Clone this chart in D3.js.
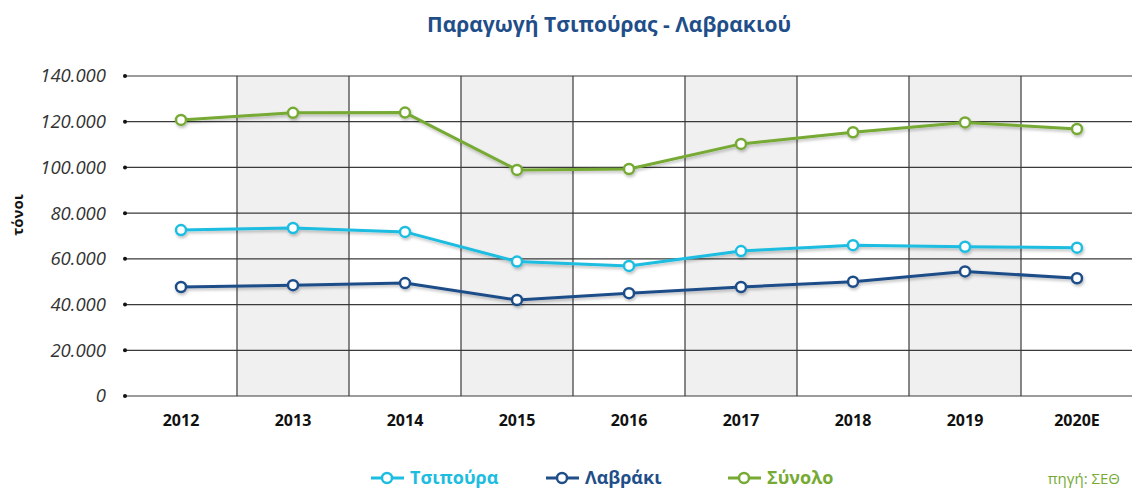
<!DOCTYPE html>
<html>
<head>
<meta charset="utf-8">
<script src="https://cdn.jsdelivr.net/npm/d3@7"></script>
<style>
  body { margin: 0; background: #fff; }
  svg { display: block; font-family: 'Open Sans', 'DejaVu Sans', sans-serif; }
</style>
</head>
<body>
<svg id="chart" width="1132" height="490"></svg>
<script>
const years = ['2012', '2013', '2014', '2015', '2016', '2017', '2018', '2019', '2020E'];
const tsipoura = [72600, 73500, 71800, 58800, 56900, 63400, 66000, 65300, 64900];
const lavraki = [47700, 48500, 49400, 42000, 45000, 47700, 50000, 54500, 51500];
const synolo = [120800, 123900, 124000, 98900, 99300, 110300, 115400, 119700, 116800];
const yTicks = [0, 20000, 40000, 60000, 80000, 100000, 120000, 140000];

const seriesList = [
  { name: 'Τσιπούρα', values: tsipoura, color: '#1cbde0' },
  { name: 'Λαβράκι', values: lavraki, color: '#1f4e89' },
  { name: 'Σύνολο', values: synolo, color: '#76aa34' }
];

const svg = d3.select('#chart');
const area = { left: 125, right: 1133, top: 76, bottom: 396 };

const x = d3.scaleBand().domain(years).range([area.left, area.right]);
const y = d3.scaleLinear().domain([0, 140000]).range([area.bottom, area.top]);

const defs = svg.append('defs');
const shadow = defs.append('filter').attr('id', 'shadow')
  .attr('x', '-5%').attr('y', '-20%').attr('width', '110%').attr('height', '140%');
shadow.append('feDropShadow')
  .attr('dx', 1).attr('dy', 2).attr('stdDeviation', 1.5)
  .attr('flood-color', '#000').attr('flood-opacity', 0.25);

// title
svg.append('text')
  .attr('x', 609).attr('y', 32)
  .style('text-anchor', 'middle')
  .style('font-size', '21px')
  .style('font-weight', 'bold')
  .style('fill', '#1f4e89')
  .text('Παραγωγή Τσιπούρας - Λαβρακιού');

// shaded bands
svg.append('g')
  .selectAll('rect')
  .data(years.filter((d, i) => i % 2 === 1))
  .enter().append('rect')
  .attr('x', d => x(d))
  .attr('y', area.top)
  .attr('width', x.bandwidth())
  .attr('height', area.bottom - area.top)
  .style('fill', '#f0f0f0');

// horizontal grid
svg.append('g')
  .selectAll('line')
  .data(yTicks)
  .enter().append('line')
  .attr('x1', area.left).attr('x2', area.right)
  .attr('y1', d => y(d)).attr('y2', d => y(d))
  .style('stroke', '#3a3a3a')
  .style('stroke-width', 1.2);

// vertical separators
svg.append('g')
  .selectAll('line')
  .data(years.slice(1))
  .enter().append('line')
  .attr('x1', d => x(d)).attr('x2', d => x(d))
  .attr('y1', area.top).attr('y2', area.bottom)
  .style('stroke', '#3a3a3a')
  .style('stroke-width', 1.2);

// y axis tick dots + labels
svg.append('g')
  .selectAll('circle')
  .data(yTicks)
  .enter().append('circle')
  .attr('cx', area.left).attr('cy', d => y(d)).attr('r', 2)
  .style('fill', '#111');

const fmt = d => d === 0 ? '0' : d3.format(',')(d).replace(/,/g, '.');
svg.append('g')
  .selectAll('text')
  .data(yTicks)
  .enter().append('text')
  .attr('x', 106).attr('y', d => y(d))
  .attr('dy', '0.35em')
  .style('text-anchor', 'end')
  .style('font-size', '18.5px')
  .style('font-style', 'italic')
  .style('fill', '#333')
  .text(fmt);

svg.append('text')
  .attr('transform', 'rotate(-90)')
  .attr('x', -215).attr('y', 23)
  .style('text-anchor', 'middle')
  .style('font-size', '15px')
  .style('font-weight', 'bold')
  .style('fill', '#111')
  .text('τόνοι');

// x labels
svg.append('g')
  .selectAll('text')
  .data(years)
  .enter().append('text')
  .attr('x', d => x(d) + x.bandwidth() / 2)
  .attr('y', 426)
  .style('text-anchor', 'middle')
  .style('font-size', '16px')
  .style('font-weight', 'bold')
  .style('fill', '#111')
  .text(d => d);

// series
const line = d3.line()
  .x((d, i) => x(years[i]) + x.bandwidth() / 2)
  .y(d => y(d));

seriesList.forEach(s => {
  const g = svg.append('g').attr('filter', 'url(#shadow)');
  g.append('path')
    .datum(s.values)
    .attr('fill', 'none')
    .attr('stroke', s.color)
    .attr('stroke-width', 3)
    .attr('stroke-linejoin', 'round')
    .attr('d', line);
  g.selectAll('circle')
    .data(s.values)
    .enter().append('circle')
    .attr('cx', (d, i) => x(years[i]) + x.bandwidth() / 2)
    .attr('cy', d => y(d))
    .attr('r', 5)
    .style('fill', '#fff')
    .style('stroke', s.color)
    .style('stroke-width', 2.5);
});

// legend
const legendX = [371, 546, 728];
seriesList.forEach((s, i) => {
  const lg = svg.append('g').attr('transform', `translate(${legendX[i]}, 478)`);
  lg.append('line')
    .attr('x1', 0).attr('x2', 33).attr('y1', 0).attr('y2', 0)
    .style('stroke', s.color).style('stroke-width', 3);
  lg.append('circle')
    .attr('cx', 16).attr('cy', 0).attr('r', 5)
    .style('fill', '#fff').style('stroke', s.color).style('stroke-width', 2.5);
  lg.append('text')
    .attr('x', 39).attr('y', 0).attr('dy', '0.36em')
    .style('font-size', '18px')
    .style('font-weight', 'bold')
    .style('fill', s.color)
    .text(s.name);
});

svg.append('text')
  .attr('x', 1120).attr('y', 484)
  .style('text-anchor', 'end')
  .style('font-size', '15px')
  .style('fill', '#76aa34')
  .text('πηγή: ΣΕΘ');
</script>
</body>
</html>
